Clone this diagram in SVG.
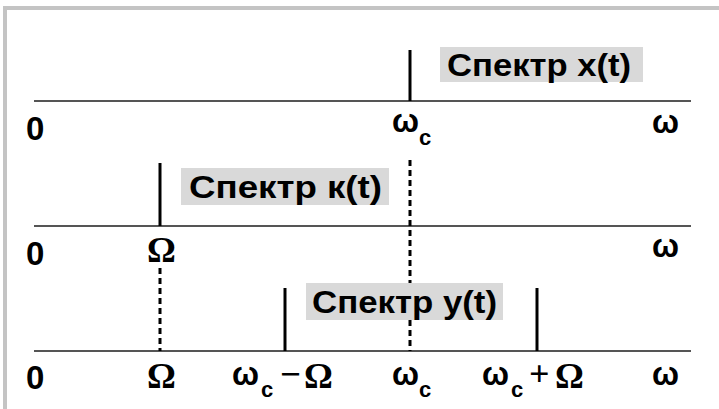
<svg xmlns="http://www.w3.org/2000/svg" width="719" height="409" viewBox="0 0 719 409">
  <style>
    .frame { fill: none; stroke: #c4c4c4; stroke-width: 4; }
    .axis { stroke: #555; stroke-width: 2; }
    .spike { stroke: #000; stroke-width: 3; }
    .guide { stroke: #000; stroke-width: 3; stroke-dasharray: 6 4; }
    .tag { fill: #d9d9d9; }
    .lbl { font-family: "Liberation Sans", Arial, sans-serif; font-weight: bold; fill: #000; }
    .cap { font-size: 32px; }
    .num { font-size: 33px; }
    .om { font-size: 34px; }
    .sub { font-size: 22px; }
    .sym { font-family: "Liberation Serif", "Times New Roman", serif; font-weight: bold; font-size: 36px; fill: #000; }
  </style>

  <!-- outer frame (top and left edges visible) -->
  <path class="frame" d="M5 409 V8 H719"/>

  <!-- axes -->
  <g id="axes">
    <line class="axis" x1="34" y1="101" x2="691" y2="101"/>
    <line class="axis" x1="34" y1="226" x2="691" y2="226"/>
    <line class="axis" x1="34" y1="351" x2="691" y2="351"/>
  </g>

  <!-- dotted guides between the rows -->
  <g id="connectors">
    <line class="guide" x1="410" y1="160" x2="410" y2="351"/>
    <line class="guide" x1="160" y1="268" x2="160" y2="351"/>
  </g>

  <!-- spectrum of x(t) -->
  <g id="spectrum-x">
    <line class="spike" x1="410" y1="50" x2="410" y2="101"/>
    <rect class="tag" x="440" y="47" width="203" height="35"/>
    <text class="lbl cap" x="447" y="76" textLength="184" lengthAdjust="spacingAndGlyphs">Спектр x(t)</text>
    <text class="lbl num" x="26" y="140">0</text>
    <text class="lbl om" x="392" y="132" textLength="27" lengthAdjust="spacingAndGlyphs">ω</text>
    <text class="lbl sub" x="419" y="145">c</text>
    <text class="lbl om" x="652" y="133" textLength="27" lengthAdjust="spacingAndGlyphs">ω</text>
  </g>

  <!-- spectrum of k(t) -->
  <g id="spectrum-k">
    <line class="spike" x1="160" y1="163" x2="160" y2="226"/>
    <rect class="tag" x="181" y="168" width="208" height="37"/>
    <text class="lbl cap" x="189" y="198" textLength="193" lengthAdjust="spacingAndGlyphs">Спектр к(t)</text>
    <text class="lbl num" x="26" y="265">0</text>
    <text class="sym" x="147" y="262">Ω</text>
    <text class="lbl om" x="652" y="257" textLength="27" lengthAdjust="spacingAndGlyphs">ω</text>
  </g>

  <!-- spectrum of y(t) -->
  <g id="spectrum-y">
    <line class="spike" x1="285" y1="288" x2="285" y2="351"/>
    <line class="spike" x1="537" y1="288" x2="537" y2="351"/>
    <rect class="tag" x="306" y="283" width="197" height="37"/>
    <text class="lbl cap" x="312" y="313" textLength="185" lengthAdjust="spacingAndGlyphs">Спектр y(t)</text>
    <text class="lbl num" x="26" y="389">0</text>
    <text class="sym" x="147" y="388">Ω</text>

    <text class="lbl om" x="232" y="385" textLength="27" lengthAdjust="spacingAndGlyphs">ω</text>
    <text class="lbl sub" x="261" y="397">c</text>
    <text class="sym" x="280" y="386" textLength="21" lengthAdjust="spacingAndGlyphs">−</text>
    <text class="sym" x="304" y="388">Ω</text>

    <text class="lbl om" x="392" y="385" textLength="27" lengthAdjust="spacingAndGlyphs">ω</text>
    <text class="lbl sub" x="419" y="397">c</text>

    <text class="lbl om" x="482" y="385" textLength="27" lengthAdjust="spacingAndGlyphs">ω</text>
    <text class="lbl sub" x="511" y="397">c</text>
    <text class="sym" x="529" y="386">+</text>
    <text class="sym" x="555" y="388">Ω</text>

    <text class="lbl om" x="652" y="385" textLength="27" lengthAdjust="spacingAndGlyphs">ω</text>
  </g>
</svg>
